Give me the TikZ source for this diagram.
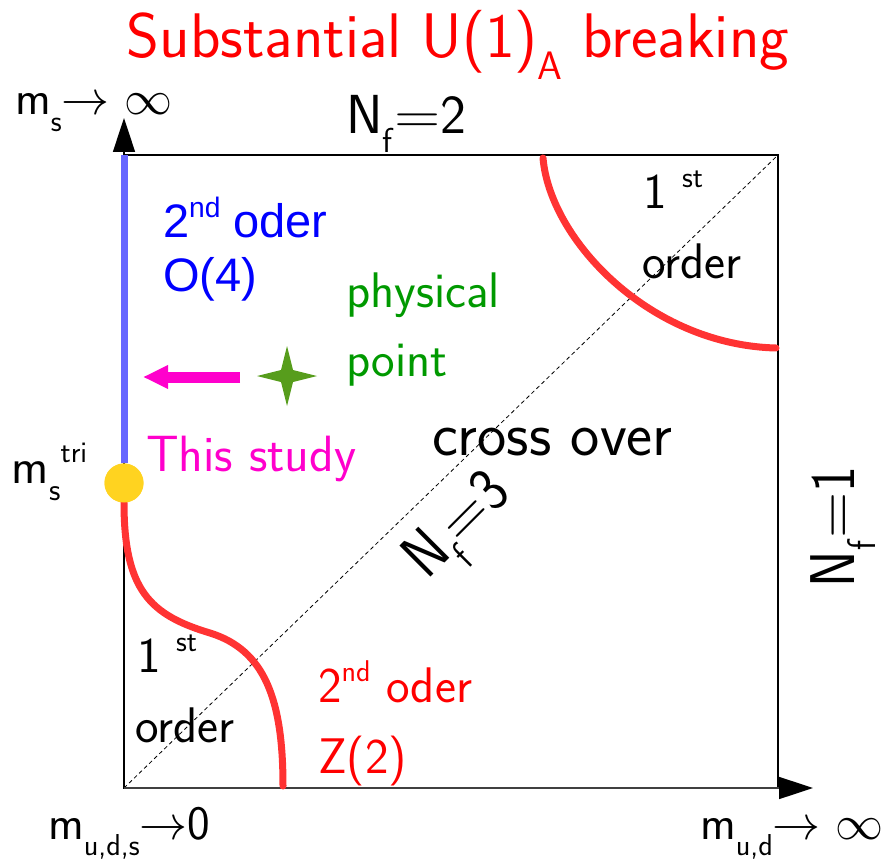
\documentclass[tikz,border=0pt]{standalone}
\usepackage{fix-cm}
\usepackage{fontspec}
\usepackage{graphicx}
\usetikzlibrary{arrows.meta,positioning}
\newfontfamily\arialfont{Liberation Sans}
\definecolor{titlered}{HTML}{FF0000}
\definecolor{linered}{HTML}{FF3333}
\definecolor{oblue}{HTML}{0000FF}
\definecolor{lineblue}{HTML}{6666FF}
\definecolor{physgreen}{HTML}{009900}
\definecolor{stargreen}{HTML}{579D1C}
\definecolor{studymag}{HTML}{FF00CC}
\definecolor{trigold}{HTML}{FFD320}
\newcommand{\lowsub}[1]{\raisebox{-0.34em}{\scalebox{0.63}{#1}}}
\newcommand{\highsup}[1]{\raisebox{0.42em}{\scalebox{0.6}{#1}}}
\newcommand{\wideeq}{\kern2pt\scalebox{1.15}[1]{=}}
\tikzset{
  lab/.style={inner sep=0pt,outer sep=0pt,anchor=base west,
    font=\sffamily\fontsize{50}{56}\selectfont},
  axlab/.style={lab,font=\sffamily\fontsize{48}{54}\selectfont},
  flavlab/.style={lab,font=\sffamily\fontsize{55}{60}\selectfont},
  bluelab/.style={lab,oblue,font=\arialfont\fontsize{47}{52}\selectfont},
  phase/.style={line width=7pt,line cap=round},
  axis/.style={-{Triangle[length=34pt,width=22pt,color=black]},line width=1.6pt}
}

\begin{document}
\begin{tikzpicture}[x=1pt,y=-1pt]
  \useasboundingbox (0,0) rectangle (889,861);
  % Frame and axes
  \coordinate (origin) at (124,788);
  \coordinate (topleft) at (124,155);
  \coordinate (topright) at (778,155);
  \coordinate (ytip) at (124,118);
  \coordinate (xtip) at (813,788);
  \draw[line width=1.2pt] (origin) rectangle (topright);
  \draw[line width=0.8pt,dash pattern=on 4pt off 3pt] (origin) -- (topright);
  \draw[axis] (origin) -- (ytip);
  \draw[axis,black!75] (origin) -- (xtip);
  % Tricritical point and boundary lines
  \node[circle,fill=trigold,minimum size=39pt,inner sep=0pt] (tri) at (124,483) {};
  \draw[lineblue,line width=7pt] (tri.north) -- (topleft);
  \draw[phase,linered] (tri.south) .. controls (124,590) and (150,615) .. (210,633)
    .. controls (265,650) and (283,700) .. (283,786);
  \draw[phase,linered] (543,158) .. controls (550,240) and (650,345) .. (776,348);
  \node[circle,fill=trigold,minimum size=39pt,inner sep=0pt] at (tri) {};
  % Physical point
  \coordinate (star) at (287,376);
  \fill[stargreen,shift={(star)}] (0,-30) -- (6,-6) -- (30,0) -- (6,6) -- (0,30)
    -- (-6,6) -- (-30,0) -- (-6,-6) -- cycle;
  \coordinate (studytail) at (240,377);
  \coordinate (studytip) at (143,377);
  \draw[studymag,line width=11pt,-{Triangle[length=25pt,width=22pt]}] (studytail) -- (studytip);
  % Labels
  \node[lab,titlered,anchor=base,font=\sffamily\fontsize{63}{68}\selectfont] (title) at (458,58)
    {Substantial U(1)\lowsub{A} breaking};
  \node[axlab] (msinf) at (15,115) {m\lowsub{s}$\rightarrow$\ $\infty$};
  \node[flavlab] (nf2) at (346,134) {N\lowsub{f}\wideeq2};
  \node[bluelab] (oderblue) at (163,237) {2\highsup{nd} oder};
  \node[bluelab] (o4) at (163,291) {O(4)};
  \node[lab,physgreen] (physical) at (346,307) {physical};
  \node[lab,physgreen] (point) at (346,376) {point};
  \node[lab,studymag,font=\sffamily\fontsize{51}{56}\selectfont] (study) at (146,471) {This study};
  \node[lab] (mstri) at (12,483) {m\lowsub{s}\highsup{tri}};
  \node[lab,font=\sffamily\fontsize{62}{68}\selectfont] (cross) at (432,455) {cross over};
  \node[lab] (firstup) at (643,209) {1\ \highsup{st}};
  \node[lab] (orderup) at (642,278) {order};
  \node[lab] (firstlow) at (137,672) {1\ \highsup{st}};
  \node[lab] (orderlow) at (135,742) {order};
  \node[lab,titlered] (oderred) at (318,702) {2\highsup{nd} oder};
  \node[lab,titlered] (z2) at (318,773) {Z(2)};
  \node[flavlab,anchor=center,rotate=45,yscale=1.15] (nf3) at (462,530) {N\lowsub{f}\wideeq3};
  \node[flavlab,anchor=center,rotate=90,yscale=1.15] (nf1) at (843,527) {N\lowsub{f}\wideeq1};
  \node[axlab] (mudszero) at (48,839) {m\lowsub{u,d,s}$\rightarrow$0};
  \node[axlab] (mudinf) at (700,839) {m\lowsub{u,d}$\rightarrow$\ $\infty$};
\end{tikzpicture}
\end{document}
